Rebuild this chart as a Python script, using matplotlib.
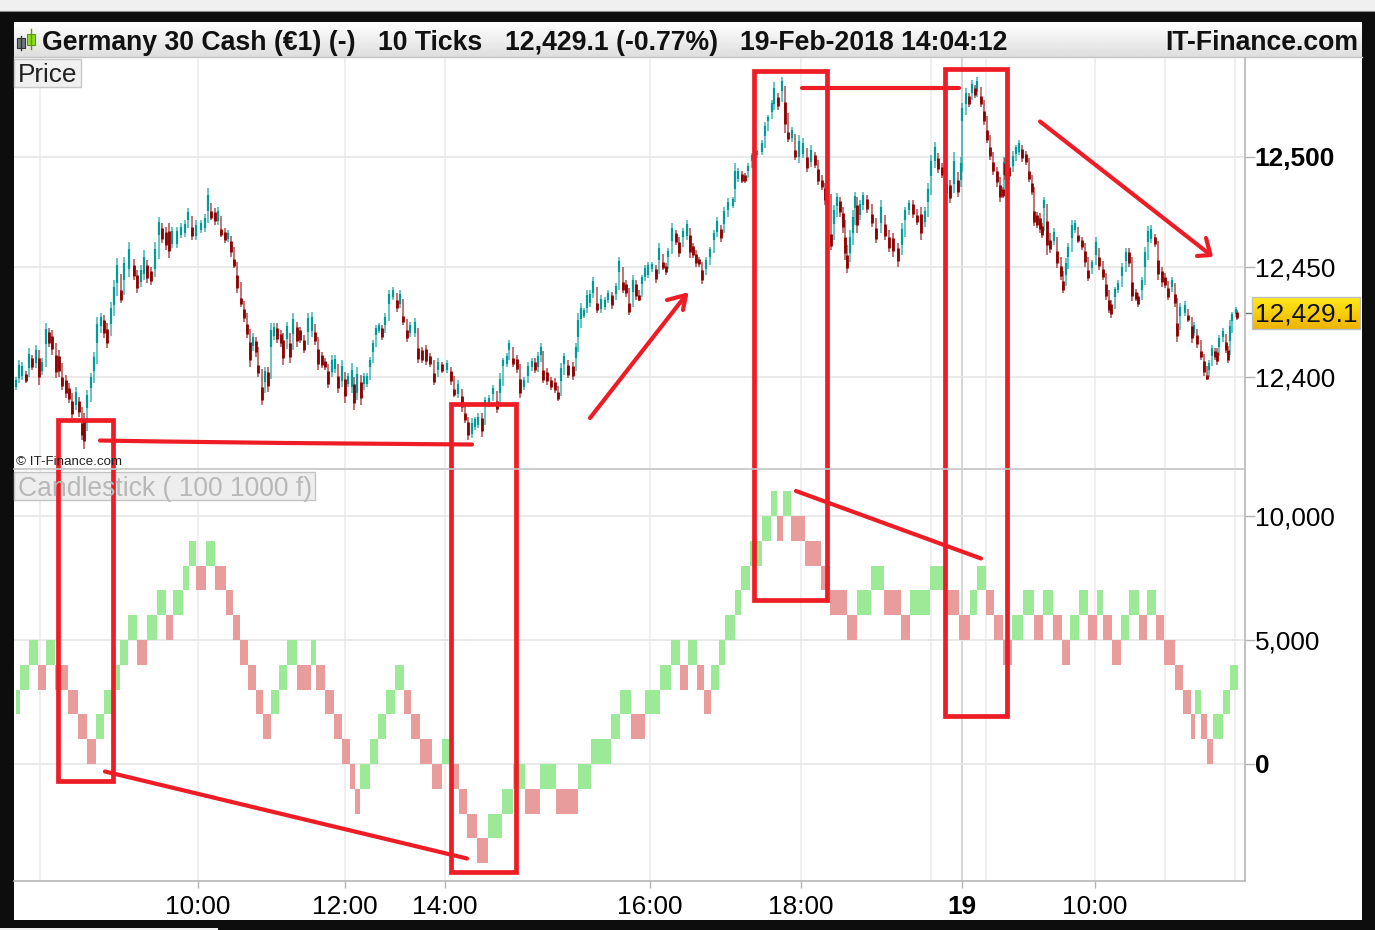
import numpy as np
import matplotlib
matplotlib.use('Agg')
from matplotlib import pyplot as plt
from matplotlib.patches import Rectangle

plt.rcParams['font.family'] = ['Liberation Sans', 'DejaVu Sans']

# price candles, x is the position along the time axis, prices are points above 12,000
candle_x = [
    15.7, 19, 22.3, 25.7, 29, 32.3, 35.7, 39, 42.3, 45.7, 49, 52.3, 55.7, 59, 62.3, 65.7, 69, 72.3, 75.7, 79,
    82.3, 84, 87.3, 90.7, 94, 97.3, 100.7, 104, 107.3, 110.7, 114, 117.3, 120.7, 124, 129, 134, 137.3, 140.7, 144, 147.3,
    151.3, 154.7, 159, 162.3, 165.7, 169, 172.3, 177.3, 180.7, 184.7, 188, 192.3, 195.7, 200.7, 204.7, 208.3, 211.3, 214.7, 218, 221.3,
    224.7, 228, 231.3, 234, 236.7, 240.7, 244, 247.3, 250, 252.7, 255.7, 258.3, 262.3, 264.7, 268, 270.7, 274, 277.3, 280.7, 283.3,
    286.7, 290,
    293.3, 296.7, 300, 304, 308.3, 311.7, 315, 318.3, 321.7, 325, 328.3, 331.7, 335, 338.3, 341.7, 345, 348.3, 351.7, 354, 357.3,
    360.7, 364, 367.3, 370, 372.7, 376, 379.3, 381.7, 385, 389.3, 392.7, 396.7, 400, 403.3, 406.7, 410, 415, 418.3, 421.7, 425.7,
    430, 434, 438.3, 442.3, 446.7, 450.7, 454, 458.3, 461.7, 465, 468.3, 471.7, 475, 478.3, 481.7, 485, 489.3, 493.3, 496.7, 500,
    502.7, 506.7, 509.3, 512.7, 516.7, 520, 524, 528.3, 531.7, 535, 538.3, 540.7, 543.3, 546.7, 550.7, 555, 557.7, 561, 564.3, 568.3,
    572.7, 576, 578.3,
    580.7, 584, 586.7, 590, 593.3, 597.3, 600.7, 605, 608.3, 611.7, 615.7, 619.3, 622.7, 625.7, 629, 632.7, 636, 638.7, 641.7, 645,
    648.3, 652.3, 655.7, 659.3, 663.3, 666, 668.3, 671.7, 675.7, 679, 682.7, 686.7, 690, 692.7, 696, 699.3, 702.3, 705.7, 710, 714,
    717.3, 720.7, 724.3, 728.3, 732.7, 735, 738.3, 741.7, 745, 748.3, 751.7,
    756.7, 761.7, 765, 768.3, 771.7, 774.3, 778.3, 782.3, 785, 788.3, 791.7, 795, 799, 803.3, 807.3, 811, 815, 818.3, 822.3, 825,
    830.7, 834, 837.3, 840, 842.7, 845, 847.3, 850, 852.7, 855, 857.3, 860, 863.3, 867.3, 871.7, 876, 881, 885, 889.3, 893.3,
    897.7, 901.7, 905, 909, 912.7, 916.7, 920.7, 925, 928.3, 931, 935, 938.3, 941.7, 945.5, 950, 954, 958, 961, 962.3, 965.7,
    969, 972.3, 975, 977.3, 980.7, 984, 987.3, 990, 993.3, 996.7, 1000, 1002.7, 1004.3,
    1005, 1008.5, 1012.7, 1015.7, 1019, 1022.3, 1025.7, 1029, 1032.3, 1034.3, 1036.7, 1040, 1042.3, 1044.3, 1046.7, 1050, 1054, 1057.3, 1060.7, 1063.3,
    1065.7, 1068.3, 1071.7, 1075, 1078.3, 1081.7, 1085, 1088.3, 1091.7, 1096, 1099.3, 1102.7, 1106, 1109, 1111, 1115, 1118.3, 1121.7, 1125.7, 1129,
    1132.3, 1135.7, 1138.3, 1141.7, 1145, 1148.3, 1151, 1155, 1158.3, 1161.7, 1165, 1168.3, 1171.7, 1175, 1176.7, 1180, 1185, 1188.3, 1191.7, 1194.3,
    1197.3, 1200.7, 1204, 1206.7, 1209.3, 1212, 1215, 1217.3, 1219.3, 1222.7, 1225.7, 1227.7, 1230, 1232.3, 1235.7, 1237.3,
]
candle_high = [
    400.1, 407.7, 406.9, 402.4, 413, 410, 414.5, 412.2, 408.4, 424.4, 422.1, 421.3, 413, 412.2, 401.6, 400.9, 397.1, 391, 395.6, 391,
    381.2, 383.4, 394, 401.6, 411.5, 427.4, 428.9, 428.1, 424.4, 434.2, 444, 453.9, 441, 454.7, 461.5, 453.1, 448.6, 450.9, 457.7, 453.1,
    450.1, 461.5, 472.8, 469.8, 468.3, 469.8, 468.3, 468.3, 469.8, 471.3, 476.6, 469.8, 471.3, 471.3, 474.3, 485.7, 476.6, 476.6, 477.4, 468.3,
    467.5, 466.8, 463.7, 454.7, 448.6, 437.2, 432.7, 425.9, 419, 419.8, 418.3, 406.9, 397.8, 404.7, 404.7, 424.4, 424.4, 424.4, 421.3, 419.8,
    425.1, 418.3,
    428.9, 425.1, 422.9, 418.3, 428.9, 429.7, 422.1, 415.3, 411.5, 408.5, 404.7, 410, 410, 402.4, 407.7, 402.4, 401.6, 406.2, 400.1, 404.7,
    400.9, 401.6, 401.6, 409.2, 416.8, 423.6, 424.4, 423.6, 428.9, 439.5, 441, 436.5, 439.5, 428.9, 422.9, 425.1, 426.6, 415.3, 413.8, 414.5,
    410.8, 403.2, 408.5, 407, 407.7, 404.7, 395.6, 398.6, 393.3, 385, 382, 381.2, 382, 383.5, 383.5, 391, 391.8, 396.3, 390.3, 401.6,
    408.5, 410.8, 416.8, 410, 410, 401.6, 400.1, 407, 408.5, 408.5, 411.5, 415.3, 404.7, 403.9, 400.1, 399.4, 394.1, 406.2, 410.8, 407,
    407, 415.3, 428.9,
    433.5, 431.2, 439.6, 439.6, 445.6, 435, 437.3, 436.5, 439.6, 438.8, 442.6, 454.7, 444.9, 444.1, 435, 446.4, 444.1, 438, 446.4, 450.9,
    452.4, 452.4, 450.9, 460.8, 453.2, 451.7, 458.5, 469.9, 466.8, 463, 467.6, 471.4, 467.6, 460.8, 457.7, 454.7, 450.2, 454.7, 459.3, 466.8,
    472.9, 469.1, 477.4, 481.2, 482, 497.1, 494.9, 493.4, 492.6, 497.1, 501.7,
    503.2, 507.7, 516.1, 519.1, 525.9, 534.3, 528.9, 536.5, 528.9, 512.3, 513.8, 504.7, 510, 508.5, 501.7, 505.5, 502.4, 496.4, 491.1, 488.1,
    466.8, 478.2, 483.5, 482, 477.4, 466.8, 457.7, 466.8, 475.9, 484.3, 482, 480.5, 484.3, 482.7, 475.9, 469.9, 480.5, 471.4, 465.3, 465.3,
    460.8, 469.9, 477.4, 480.5, 480.5, 475.1, 477.4, 477.4, 488, 500.9, 507, 501.7, 497.1, 490, 489.6, 502.4, 491.8, 500.2, 524.4, 531.2,
    528.9, 535, 532.7, 536.5, 528.9, 522.9, 513.8, 506.2, 499.4, 495.6, 489.6, 486.5, 500.2,
    499.4, 497, 502.5, 505.5, 507.8, 505.5, 502.5, 494.9, 489.6, 477.5, 475.2, 474.4, 469.9, 482, 475.2, 463.8, 467.6, 459.3, 452.5, 444.9,
    454, 460.8, 471.4, 471.4, 465.3, 463.8, 459.3, 450.2, 453.2, 463.8, 456.3, 450.2, 444.1, 436.5, 435, 441.1, 444.1, 451.7, 458.5, 458.5,
    445.6, 439.6, 438.1, 445.6, 459.3, 468.4, 469.1, 464.6, 455.5, 450.2, 447.1, 441.8, 445.6, 439.6, 426.7, 433.5, 434.3, 429, 425.2, 425.2,
    420.6, 413.1, 409.3, 401.7, 407.8, 414.6, 413.1, 413.1, 419.1, 422.1, 417.6, 413.8, 425.9, 429.7, 432, 430.5,
]
candle_low = [
    394, 397.1, 398.6, 397.1, 401.6, 403.1, 403.9, 396.3, 400.9, 412.2, 413.7, 410, 399.4, 400.1, 394, 390.3, 388, 381.2, 385, 382,
    371.3, 367.1, 383.4, 393.3, 400.1, 412.2, 421.3, 417.5, 413, 421.3, 429.6, 439.5, 433.4, 441, 445.6, 444, 438, 441, 444, 442.5,
    441.8, 445.6, 462.2, 460.7, 457.7, 453.9, 458.4, 458.4, 463, 463.7, 469.8, 462.2, 462.2, 465.3, 466, 472.8, 471.3, 469, 469, 463.7,
    460.7, 461.5, 454.7, 449.4, 438, 431.9, 425.1, 417.5, 404.7, 412.2, 409.2, 400.1, 387.2, 395.6, 393.3, 410.7, 416.8, 415.3, 413.7, 405.4,
    415.3, 406.2,
    416.8, 413.8, 415.3, 410.8, 418.3, 418.3, 414.5, 403.2, 403.9, 403.2, 394.8, 400.1, 401.6, 392.6, 395.6, 388, 395.6, 392.6, 385, 389.5,
    387.3, 395.6, 395.6, 403.2, 410, 417.6, 419.8, 416.8, 422.1, 431.2, 435, 429.7, 431.2, 423.6, 416, 418.3, 418.3, 406.2, 406.2, 405.4,
    404.7, 396.3, 401.6, 401.6, 401.6, 396.3, 391, 390.3, 384.2, 378.9, 371.3, 372.1, 375.9, 376.6, 372.9, 385, 386.5, 391, 383.8, 390.3,
    403.9, 404.7, 410.8, 404.7, 401.6, 390.3, 394.1, 398.6, 403.2, 401.6, 402.4, 408.5, 397.1, 396.3, 394.1, 392.6, 389, 395.6, 404.7, 399.4,
    398.6, 407, 415.3,
    424.4, 426.7, 429, 432, 435.8, 429, 429, 430.5, 433.5, 430.8, 436.5, 445.6, 438, 436.5, 428.2, 436.5, 435, 434.3, 441.1, 444.1,
    444.9, 447.9, 442.6, 450.9, 448.7, 446.4, 453.2, 459.3, 460, 454.7, 462.3, 462.3, 454, 454, 450.2, 450.2, 442.3, 447.2, 453.2, 460.8,
    463.8, 461.5, 467.6, 474.4, 476.7, 482, 488.8, 488, 488, 492.6, 497.1,
    500.2, 500.9, 507.7, 515.3, 519.1, 521.4, 521.4, 528.2, 510.8, 507, 507, 498.6, 497.1, 499.4, 493.3, 495.6, 494.9, 487.3, 485, 478.2,
    457.7, 466.8, 475.9, 472.9, 465.3, 453.2, 447.1, 453.2, 462.3, 474.4, 465.3, 471.4, 476.7, 474.4, 468.3, 460.8, 466.8, 462.3, 457, 454.7,
    450.2, 457, 469.9, 474.4, 472.1, 469.1, 462.3, 468.3, 477.4, 488.8, 495.6, 492.6, 490.3, 482, 479, 483.5, 482, 486.5, 513.8, 522.1,
    522.9, 527.4, 526.7, 527.4, 522.9, 514.6, 506.2, 498.6, 491.8, 486.5, 479.7, 481.2, 489.6,
    489.6, 489.6, 494.1, 500.2, 500.9, 497.9, 496.4, 488.8, 482.8, 468.4, 467.6, 465.3, 463.1, 475.2, 455.5, 456.3, 460, 449.4, 444.1, 438.1,
    444.1, 452.5, 460.8, 465.3, 460.8, 457.8, 450.2, 443.4, 448.7, 453.2, 448.7, 444.1, 435, 429, 426.7, 435, 438.1, 444.1, 450.9, 450.2,
    434.3, 434.3, 432, 438.1, 447.1, 459.3, 460.8, 459.3, 444.1, 441.1, 440.3, 435, 439.6, 432, 416.1, 425.9, 427.5, 425.2, 415.3, 418.4,
    413.1, 407.8, 400.2, 398.4, 401.7, 407.8, 407.8, 405.5, 412.3, 416.8, 410.8, 406.2, 413.8, 424.4, 427.5, 426,
]

# lower panel, 1000 unit bricks: open and close levels and the edges between bricks
brick_open = [
    2000, 3000, 4000, 4000, 4000, 4000, 3000, 2000, 1000, 1000, 2000, 3000, 4000, 5000, 5000, 5000, 6000, 6000, 6000, 7000,
    8000, 8000, 8000, 8000, 7000, 6000, 5000, 4000, 3000, 2000, 2000, 3000, 4000, 4000, 4000, 4000, 3000, 2000, 1000, 0,
    -1000, -1000, 0, 1000, 2000, 3000, 3000, 2000, 1000, 0, 0, 0, -1000, -2000, -3000, -3000, -2000, -1000, -1000, -1000,
    -1000, -1000, 0, 1000, 2000, 2000, 2000, 3000, 4000, 4000, 4000, 4000, 3000, 3000, 4000, 5000, 6000, 7000, 8000, 9000,
    10000, 10000, 10000, 10000, 9000, 8000, 7000, 6000, 6000, 7000, 7000, 6000, 6000, 7000, 7000, 6000, 6000, 7000, 7000, 6000,
    5000, 5000, 6000, 6000, 6000, 6000, 5000, 5000, 6000, 6000, 6000, 6000, 5000, 5000, 6000, 6000, 6000, 6000, 5000, 4000,
    3000, 2000, 2000, 2000, 1000, 1000, 2000, 3000,
]
brick_close = [
    3000, 4000, 5000, 3000, 5000, 3000, 2000, 1000, 0, 2000, 3000, 4000, 5000, 6000, 4000, 6000, 7000, 5000, 7000, 8000,
    9000, 7000, 9000, 7000, 6000, 5000, 4000, 3000, 2000, 1000, 3000, 4000, 5000, 3000, 5000, 3000, 2000, 1000, 0, -1000,
    -2000, 0, 1000, 2000, 3000, 4000, 2000, 1000, 0, -1000, 1000, -1000, -2000, -3000, -4000, -2000, -1000, 0, -2000, 0,
    -2000, 0, 1000, 2000, 3000, 1000, 3000, 4000, 5000, 3000, 5000, 3000, 2000, 4000, 5000, 6000, 7000, 8000, 9000, 10000,
    11000, 9000, 11000, 9000, 8000, 7000, 6000, 5000, 7000, 8000, 6000, 5000, 7000, 8000, 6000, 5000, 7000, 8000, 6000, 5000,
    4000, 6000, 7000, 5000, 7000, 5000, 4000, 6000, 7000, 5000, 7000, 5000, 4000, 6000, 7000, 5000, 7000, 5000, 4000, 3000,
    2000, 1000, 3000, 1000, 0, 2000, 3000, 4000,
]
brick_edges = [
    16, 20, 29, 38, 46, 55, 68, 78, 87, 96, 104, 113, 120, 128, 137, 147, 157, 166, 173, 183,
    189, 196, 206, 215, 226, 233, 240, 248, 256, 263, 271, 279, 287, 297, 311, 316, 325, 334, 342, 350,
    355, 360, 370, 378, 386, 395, 404, 411, 420, 432, 442, 452, 459, 467, 477, 488, 502, 513, 525, 540,
    556, 578, 591, 611, 620, 631, 645, 660, 671, 680, 688, 697, 704, 711, 719, 725, 735, 741, 750, 762,
    771, 777, 783, 791, 805, 821, 830, 847, 857, 871, 884, 901, 910, 930, 945, 959, 970, 977, 986, 994,
    1003, 1012, 1023, 1034, 1043, 1053, 1062, 1070, 1079, 1088, 1097, 1103, 1112, 1121, 1129, 1139, 1147, 1156, 1164, 1175,
    1183, 1191, 1195, 1201, 1207, 1213, 1223, 1230, 1238,
]

# axis ticks
time_ticks = [198, 345, 445, 650, 801, 962, 1095]
time_labels = ['10:00', '12:00', '14:00', '16:00', '18:00', '19', '10:00']
extra_grid = [40, 931, 986, 1165, 1235]
price_ticks = [12400, 12450, 12500]
price_labels = ['12,400', '12,450', '12,500']
volume_ticks = [0, 5000, 10000]
volume_labels = ['0', '5,000', '10,000']
last_price = 12429.1

# hand drawn marks on the screenshot, in image pixels
red_boxes = [(58, 420, 113, 781), (451.5, 403.5, 516.5, 872), (754.5, 71.5, 827.5, 600), (945.5, 69.5, 1007.5, 715.5)]
red_lines = [
    ([100, 163, 285, 472], [440.5, 441.5, 443, 444.5]),
    ([105, 467], [771.5, 858.5]),
    ([802, 959], [88, 88]),
    ([796, 981], [491, 558.5]),
    ([590, 686], [418, 295]),
    ([667, 686, 683], [300, 295, 310]),
    ([1040, 1210], [121.5, 254.5]),
    ([1206, 1210.5, 1197], [238, 255, 256]),
]

W, H = 1375, 930
RED = '#ee1c25'
BLACK = '#0d0d0d'
TXT = 18.9
HEAD = 19.2


def px_axes(x0, y0, x1, y1):
    return [x0 / W, 1 - y1 / H, (x1 - x0) / W, (y1 - y0) / H]


fig = plt.figure(figsize=(W / 100, H / 100), dpi=100, facecolor=BLACK)

# frame and header behind the charts
back = fig.add_axes([0, 0, 1, 1], zorder=0)
back.axis('off')
back.add_patch(Rectangle((0, 0), W, 11, color='#f0f0f0', lw=0))
back.plot([0, W], [11.5, 11.5], color='#8a8a8a', lw=0.8)
back.add_patch(Rectangle((14, 22), 1348, 898, color='white', lw=0))
back.add_patch(Rectangle((0, 928), 218, 2, color='#f0f0f0', lw=0))
shade = np.linspace(1, 0.87, 40).reshape(-1, 1)
back.imshow(shade, extent=(14, 1362, 57, 22), cmap='gray', vmin=0, vmax=1, aspect='auto', zorder=2)
back.plot([14, 1362], [57.5, 57.5], color='#c4c4c4', lw=1, zorder=3)
back.set_xlim(0, W)
back.set_ylim(H, 0)

# price panel
ax = fig.add_axes(px_axes(14, 58, 1245, 468), zorder=1, facecolor='none')
ax.set_xlim(14, 1245)
ax.set_ylim(12358.6, 12545)
high = np.array(candle_high) + 12000
low = np.array(candle_low) + 12000
x = np.array(candle_x)
mid = (high + low) / 2
prev = np.r_[mid[0], mid[:-1]]
up = mid >= prev
colors = np.where(up, '#12a3a3', '#a02020')
# wicks reach back to the last candle so the trace reads as one chain
ax.vlines(x, np.minimum(low, prev), np.maximum(high, prev), colors=colors, lw=1.1, alpha=0.8, zorder=3)
half = (high - low) * 0.28
ax.vlines(x[up], mid[up] - half[up], mid[up] + half[up], colors='#009c9c', lw=1.6, zorder=4)
ax.vlines(x[~up], mid[~up] - half[~up], mid[~up] + half[~up], colors='#8b0000', lw=2.0, zorder=5)

# candlestick bricks
ax2 = fig.add_axes(px_axes(14, 470, 1245, 881), zorder=1, facecolor='none')
ax2.set_xlim(14, 1245)
ax2.set_ylim(-4718, 11855)
edges = np.array(brick_edges)
b_open = np.array(brick_open)
b_close = np.array(brick_close)
b_colors = np.where(b_close > b_open, '#9cea98', '#e89c9c')
ax2.bar(edges[:-1], b_close - b_open, width=np.diff(edges), bottom=b_open, align='edge',
        color=b_colors, lw=0, zorder=3)

for a in (ax, ax2):
    a.set_axisbelow(True)
    a.set_xticks(time_ticks)
    a.set_xticks(extra_grid, minor=True)
    a.grid(True, which='both', axis='x', color='#ececec', lw=1.2)
    a.grid(True, which='major', axis='y', color='#e6e6e6', lw=1.2)
    a.yaxis.tick_right()
    a.tick_params(axis='y', which='major', length=7, width=1, color='#b4b4b4', labelsize=TXT, pad=0)
    a.tick_params(axis='x', which='major', length=5, width=1, color='#b4b4b4', labelsize=TXT, pad=5)
    a.tick_params(which='minor', length=0)
    for side in ('left', 'top'):
        a.spines[side].set_visible(False)
    for side in ('right', 'bottom'):
        a.spines[side].set_color('#b8b8b8')
        a.spines[side].set_linewidth(1.2)
    a.get_xgridlines()[5].set_color('#cfcfcf')

ax.spines['bottom'].set_visible(False)
ax.set_yticks(price_ticks, price_labels)
ax.set_yticks([last_price], minor=True)
ax.tick_params(axis='y', which='minor', length=5, width=1, color='#707070')
ax.tick_params(axis='x', length=0, labelbottom=False)
ax.get_yticklabels()[2].set_fontweight('bold')
ax2.set_yticks(volume_ticks, volume_labels)
ax2.get_yticklabels()[0].set_fontweight('bold')
ax2.set_xticks(time_ticks, time_labels)
ax2.get_xticklabels()[5].set_fontweight('bold')

# texts, tag and hand drawn marks on top
over = fig.add_axes([0, 0, 1, 1], zorder=2, facecolor='none')
over.axis('off')

# header icon
over.plot([21, 21], [36, 50], color='#333333', lw=1)
over.add_patch(Rectangle((17, 38), 8, 10, fc='#707a80', ec='#333333', lw=0.8))
over.plot([31, 31], [29, 49], color='#5a9a10', lw=1)
over.add_patch(Rectangle((27, 34), 8, 11, fc='#8fdc20', ec='#5a9a10', lw=0.8))

over.text(42, 43, 'Germany 30 Cash (€1) (-)', fontsize=HEAD, fontweight='bold', va='center', color='#111111')
over.text(378, 43, '10 Ticks', fontsize=HEAD, fontweight='bold', va='center', color='#111111')
over.text(505, 43, '12,429.1 (-0.77%)', fontsize=HEAD, fontweight='bold', va='center', color='#111111')
over.text(740, 43, '19-Feb-2018 14:04:12', fontsize=HEAD, fontweight='bold', va='center', color='#111111')
over.text(1358, 43, 'IT-Finance.com', fontsize=HEAD, fontweight='bold', va='center', ha='right', color='#111111')

over.add_patch(Rectangle((14, 59), 67, 28, fc='#f0f0f0', ec='#c8c8c8', lw=1))
over.text(18, 75.5, 'Price', fontsize=TXT, va='center', color='#222222')
over.add_patch(Rectangle((14, 472), 301, 28, fc='#eeeeee', ec='#c4c4c4', lw=1))
over.text(18, 489, 'Candlestick ( 100 1000 f)', fontsize=19.1, va='center', color='#b8b8b8')
over.text(16, 461.5, '© IT-Finance.com', fontsize=9.6, va='center', color='#222222')
over.plot([14, 1245], [469, 469], color='#c4c4c4', lw=1.2)

# last price tag
tag = np.linspace(0, 1, 32).reshape(-1, 1)
over.imshow(tag, extent=(1252, 1360, 329, 297), cmap=matplotlib.colors.LinearSegmentedColormap.from_list(
    'tag', ['#ffe81a', '#eeb400']), aspect='auto')
over.add_patch(Rectangle((1252, 297), 108, 32, fc='none', ec='#c0c0c0', lw=1))
over.text(1255, 314.5, f'{last_price:,.1f}', fontsize=TXT, va='center', color='#111111')

for x0, y0, x1, y1 in red_boxes:
    over.add_patch(Rectangle((x0, y0), x1 - x0, y1 - y0, fc='none', ec=RED, lw=3.4, joinstyle='miter'))
for xs, ys in red_lines:
    over.plot(xs, ys, color=RED, lw=3.0, solid_capstyle='round', solid_joinstyle='round')
over.set_xlim(0, W)
over.set_ylim(H, 0)

fig.savefig('out.png', dpi=100, facecolor=BLACK)
